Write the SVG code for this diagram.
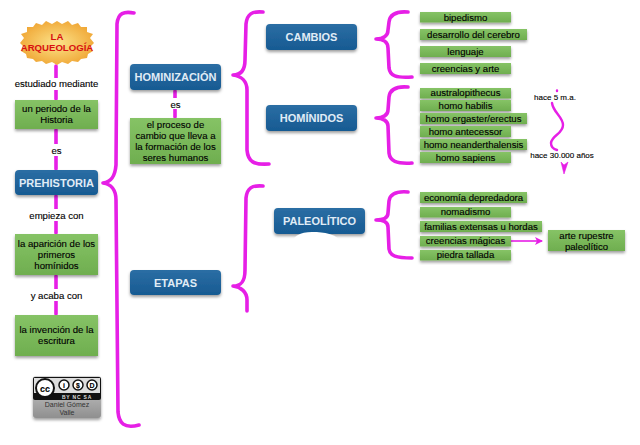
<svg xmlns="http://www.w3.org/2000/svg" width="640" height="445" viewBox="0 0 640 445">
<style>
text{font-family:"Liberation Sans",Arial,sans-serif;text-anchor:middle;font-size:9.6px;fill:#000;stroke:#000;stroke-width:.12}
.t{font-size:11px;font-weight:bold;fill:#e0ecf6;stroke:none}
.c{fill:none;stroke:#e61fe6;stroke-width:3.6;stroke-linecap:round;stroke-linejoin:round}
.b{fill:url(#bl);filter:url(#sh)}
.g{fill:url(#gr);filter:url(#sh)}
.r{fill:#d81010;stroke:none;font-weight:bold;font-size:9.6px}
</style>
<defs>
<linearGradient id="bl" x1="0" y1="0" x2="0" y2="1"><stop offset="0" stop-color="#2b6ea4"/><stop offset="1" stop-color="#175a92"/></linearGradient>
<linearGradient id="gr" x1="0" y1="0" x2="0" y2="1"><stop offset="0" stop-color="#86c366"/><stop offset="1" stop-color="#6fae4f"/></linearGradient>
<radialGradient id="st" cx=".5" cy=".5" r=".6"><stop offset="0" stop-color="#fbe38a"/><stop offset="1" stop-color="#efa02c"/></radialGradient>
<linearGradient id="gy" x1="0" y1="0" x2="0" y2="1"><stop offset="0" stop-color="#d2d2d2"/><stop offset="1" stop-color="#8f8f8f"/></linearGradient>
<filter id="sh" x="-15%" y="-30%" width="130%" height="170%"><feDropShadow dx="0" dy="2" stdDeviation="1.6" flood-color="#000" flood-opacity=".38"/></filter>
<marker id="ah" markerWidth="9" markerHeight="8" refX="7" refY="4" orient="auto" markerUnits="userSpaceOnUse"><path d="M0 0L8 4L0 8L2 4Z" fill="#e61fe6"/></marker>
</defs>
<g id="connectors">
<path class="c" d="M56 66V99M56 130V169M56 196V233M56 276V314M175 91V117"/>
<path class="c" d="M134 13C124 11 118 13 117 24L116 165C115 177 111 182 103 183C111 184 116 190 116 200L118 412C119 423 124 429 139 425"/>
<path class="c" d="M263 12C252 11 247 14 246 24L245 60C245 70 241 75 233 75C241 76 247 81 247 90L247 150C248 162 254 165 269 164"/>
<path class="c" d="M263 186C252 185 247 188 246 198L245 270C245 282 241 286 233 286C241 287 247 292 247 300L247 311"/>
<path class="c" d="M408 12C396 11 390 14 389 22L388 30C388 36 383 39 376 39C383 39 388 42 388 48L389 68C390 76 396 78 412 77"/>
<path class="c" d="M408 87C396 86 390 89 389 97L388 110C388 115 383 118 376 118C383 118 388 121 388 126L389 153C390 161 396 164 412 163"/>
<path class="c" d="M408 192C396 191 390 194 389 201L388 213C388 218 383 220 376 220C383 220 388 222 388 227L389 249C390 256 396 258 412 258"/>
<path class="c" style="stroke-width:2.400" d="M557 90.500V91M552 103C553 112 563 117 563 125C563 134 552 135 551 143C551 147 553 149 557 150"/>
<path d="M561 162L564 165L568 162L564 174Z" fill="#e61fe6" stroke="#e61fe6" stroke-width=".6"/>
<path d="M511 241H542" fill="none" stroke="#e61fe6" stroke-width="1.600" marker-end="url(#ah)"/>
</g>
<g id="n-arqueologia">
<path d="M57 21L62 24L68 21L72 25L78 23L81 27L87 27L87 32L93 34L90 38L94 43L90 47L93 51L88 54L87 58L81 59L78 62L72 61L68 64L62 62L57 65L52 62L46 64L42 61L36 62L33 59L27 58L26 54L21 51L24 47L20 43L24 38L21 34L27 32L27 27L33 27L36 23L42 25L46 21L52 24Z" fill="url(#st)"/>
<text class="r" x="57" y="40">LA</text><text class="r" x="57" y="51">ARQUEOLOGÍA</text>
</g>
<g id="l-estudiado"><rect x="15" y="78" width="84" height="12" fill="#fff"/><text x="56.500" y="87">estudiado mediante</text></g>
<g id="n-periodo"><rect class="g" x="15" y="100" width="83" height="29"/><text x="56.500" y="112">un periodo de la</text><text x="56.500" y="123">Historia</text></g>
<g id="l-es1"><rect x="49" y="144" width="15" height="12" fill="#fff"/><text x="56.500" y="154">es</text></g>
<g id="n-prehistoria"><rect class="b" x="15" y="170" width="83" height="25" rx="4"/><text class="t" x="56.500" y="187">PREHISTORIA</text></g>
<g id="l-empieza"><rect x="25" y="209" width="62" height="12" fill="#fff"/><text x="56.500" y="219">empieza con</text></g>
<g id="n-aparicion"><rect class="g" x="15" y="234" width="83" height="41"/><text x="56.500" y="247">la aparición de los</text><text x="56.500" y="258">primeros</text><text x="56.500" y="269">homínidos</text></g>
<g id="l-acaba"><rect x="28" y="289" width="57" height="12" fill="#fff"/><text x="56.500" y="299">y acaba con</text></g>
<g id="n-invencion"><rect class="g" x="15" y="315" width="83" height="41"/><text x="56.500" y="333">la invención de la</text><text x="56.500" y="344">escritura</text></g>
<g id="n-cc">
<rect x="33" y="376" width="68" height="42" rx="3" fill="url(#gy)" filter="url(#sh)"/>
<rect x="33" y="377" width="68" height="23" rx="2" fill="#111"/>
<rect x="34" y="378" width="66" height="15" fill="#ddd"/>
<circle cx="45" cy="388" r="9" fill="#fff" stroke="#111" stroke-width="2"/>
<circle cx="64" cy="385" r="5" fill="#fff" stroke="#111" stroke-width="1.500"/>
<circle cx="78" cy="385" r="5" fill="#fff" stroke="#111" stroke-width="1.500"/>
<circle cx="92" cy="385" r="5" fill="#fff" stroke="#111" stroke-width="1.500"/>
<text x="45" y="391.500" style="font-size:9px;font-weight:bold">cc</text>
<text x="64" y="388" style="font-size:7px;font-weight:bold">i</text>
<text x="78" y="388" style="font-size:7px;font-weight:bold">$</text>
<text x="92" y="388" style="font-size:7px;font-weight:bold">D</text>
<text x="77" y="399" style="font-size:5px;font-weight:bold;fill:#ddd;stroke:none;letter-spacing:.8px">BY NC SA</text>
<text x="67" y="407" style="font-size:7px;fill:#333;stroke:none">Daniel Gómez</text>
<text x="67" y="415" style="font-size:7px;fill:#333;stroke:none">Valle</text>
</g>
<g id="n-hominizacion"><rect class="b" x="130" y="64" width="91" height="26" rx="4"/><text class="t" x="175.500" y="81">HOMINIZACIÓN</text></g>
<g id="l-es2"><rect x="168" y="98" width="15" height="11" fill="#fff"/><text x="175.500" y="108">es</text></g>
<g id="n-proceso"><rect class="g" x="130" y="118" width="91" height="46"/><text x="175.500" y="128">el proceso de</text><text x="175.500" y="139">cambio que lleva a</text><text x="175.500" y="150">la formación de los</text><text x="175.500" y="161">seres humanos</text></g>
<g id="n-etapas"><rect class="b" x="130" y="270" width="91" height="25" rx="4"/><text class="t" x="175.500" y="287">ETAPAS</text></g>
<g id="n-cambios"><rect class="b" x="266" y="24" width="91" height="26" rx="4"/><text class="t" x="311.500" y="41">CAMBIOS</text></g>
<g id="n-hominidos"><rect class="b" x="266" y="105" width="91" height="26" rx="4"/><text class="t" x="311.500" y="122">HOMÍNIDOS</text></g>
<g id="n-paleolitico"><rect class="b" x="274" y="208" width="91" height="26" rx="4"/><text class="t" x="319.500" y="225">PALEOLÍTICO</text>
<path d="M290 245C293 236 300 232 312 232C325 232 335 234 342 242V255H290Z" fill="#fff"/></g>
<g id="n-bipedismo"><rect class="g" x="420" y="12" width="91" height="10.500"/><text x="465.500" y="20.500">bipedismo</text></g>
<g id="n-cerebro"><rect class="g" x="420" y="29" width="107" height="11"/><text x="473.500" y="37.500">desarrollo del cerebro</text></g>
<g id="n-lenguaje"><rect class="g" x="420" y="46" width="91" height="11"/><text x="465.500" y="54.500">lenguaje</text></g>
<g id="n-creencias-arte"><rect class="g" x="420" y="63" width="91" height="11"/><text x="465.500" y="71.500">creencias y arte</text></g>
<g id="n-australo"><rect class="g" x="420" y="88" width="91" height="10.500"/><text x="465.500" y="96">australopithecus</text></g>
<g id="n-habilis"><rect class="g" x="420" y="100" width="91" height="11"/><text x="465.500" y="108.500">homo habilis</text></g>
<g id="n-ergaster"><rect class="g" x="420" y="113" width="107" height="11"/><text x="473.500" y="121.500">homo ergaster/erectus</text></g>
<g id="n-antecessor"><rect class="g" x="420" y="126" width="91" height="11"/><text x="465.500" y="134.500">homo antecessor</text></g>
<g id="n-neander"><rect class="g" x="420" y="139" width="107" height="11"/><text x="473.500" y="147.500">homo neanderthalensis</text></g>
<g id="n-sapiens"><rect class="g" x="420" y="152" width="91" height="11"/><text x="465.500" y="160.500">homo sapiens</text></g>
<g id="n-economia"><rect class="g" x="420" y="192" width="107" height="11"/><text x="473.500" y="200.500">economía depredadora</text></g>
<g id="n-nomadismo"><rect class="g" x="420" y="207" width="91" height="10.500"/><text x="465.500" y="215">nomadismo</text></g>
<g id="n-familias"><rect class="g" x="420" y="221" width="122" height="11"/><text x="481" y="229.500">familias extensas u hordas</text></g>
<g id="n-creencias-magicas"><rect class="g" x="420" y="236" width="91" height="10.500"/><text x="465.500" y="244">creencias mágicas</text></g>
<g id="n-piedra"><rect class="g" x="420" y="250" width="91" height="10.500"/><text x="465.500" y="258">piedra tallada</text></g>
<g id="n-rupestre"><rect class="g" x="548" y="230" width="77" height="21"/><text x="586.500" y="238.500">arte rupestre</text><text x="586.500" y="249.500">paleolítico</text></g>
<g id="l-5ma"><text x="555" y="100" style="font-size:8px">hace 5 m.a.</text></g>
<g id="l-30000"><text x="562" y="158" style="font-size:8px">hace 30.000 años</text></g>
</svg>
